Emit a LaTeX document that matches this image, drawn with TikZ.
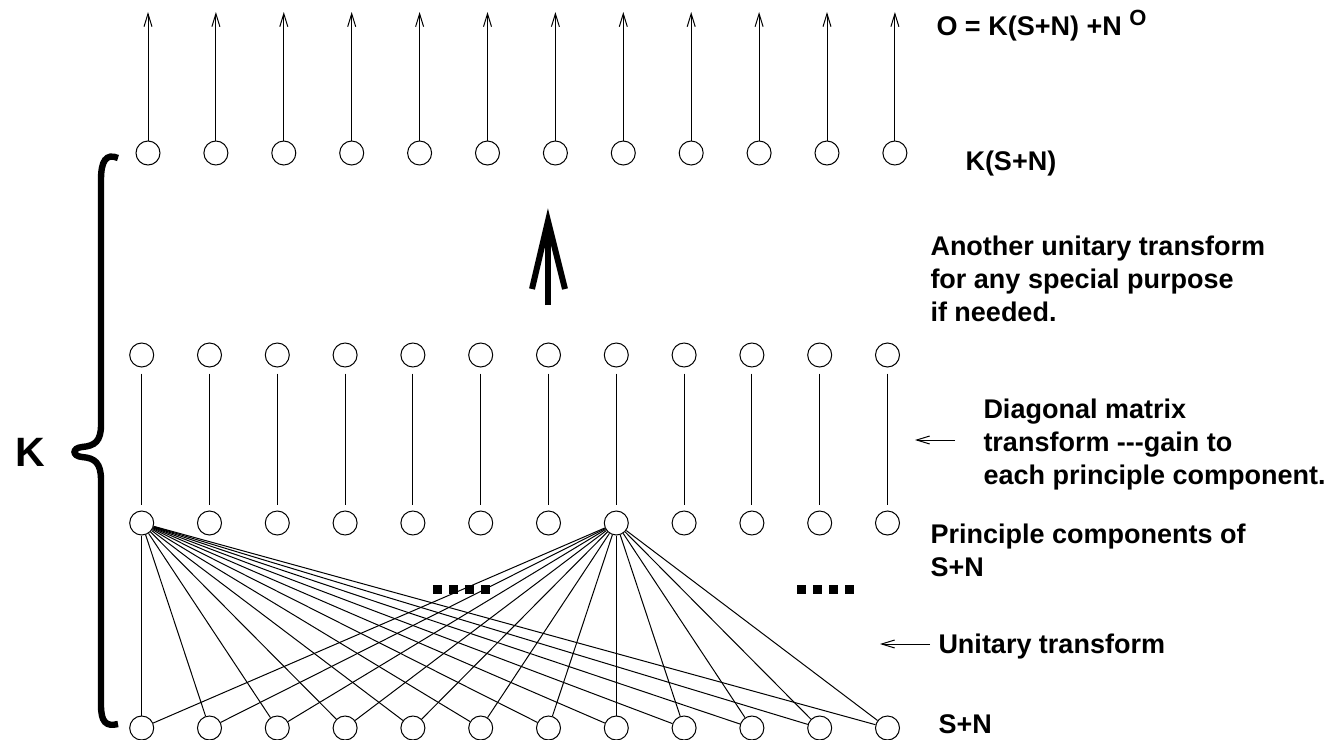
\documentclass[tikz,border=0pt]{standalone}
\usepackage{fontspec}
\setmainfont{Liberation Sans}
\usetikzlibrary{arrows.meta}

\tikzset{
  unit/.style={draw, circle, minimum size=12pt, inner sep=0pt, line width=0.5pt},
  lbl/.style={anchor=base west, inner sep=0pt, align=left,
    font=\bfseries\fontsize{13.5}{16.5}\selectfont},
  thinarrow/.style={line width=0.5pt, -{Straight Barb[length=6.5pt,width=4pt]}},
  dotsq/.style={fill=black},
}

\begin{document}
\begin{tikzpicture}[x=0.5pt, y=-0.5pt, line width=0.5pt]
\useasboundingbox (0,0) rectangle (1330,740);

% output layer K(S+N)
\foreach \i in {0,...,11}
{
    \node[unit] (k\i) at (148+67.9*\i,153) {};
    \coordinate (o\i) at (148+67.9*\i,12);
    \draw[thinarrow] (k\i) -- (o\i);
};

% diagonal, principal and input layers
\foreach \i in {0,...,11}
{
    \node[unit] (d\i) at (141.7+67.8*\i,355) {};
    \node[unit] (p\i) at (141.7+67.8*\i,523) {};
    \node[unit] (s\i) at (141.7+67.8*\i,728) {};
    \draw[shorten <=3pt, shorten >=3pt] (d\i) -- (p\i);
};

% unitary transform (only two fans shown)
\foreach \i in {0,...,11}
{
    \draw (p0) -- (s\i);
    \draw (p7) -- (s\i);
};

% dots
\foreach \j in {0,...,3}
{
    \fill[dotsq] (433+16*\j,585) rectangle ++(9,9);
    \fill[dotsq] (797+16*\j,585) rectangle ++(9,9);
};

% big arrow
\draw[line width=3.3pt] (548,305) -- (548,225);
\draw[line width=3pt, miter limit=10] (532,289) -- (548,221) -- (565,289);

% brace
\draw[line width=3.2pt]
    (118,158) .. controls (106,153) and (101,161) .. (101,180)
    -- (101,425) .. controls (101,441) and (95,446) .. (82,447)
    .. controls (72,448) and (72,456) .. (82,457)
    .. controls (95,458) and (101,463) .. (101,480)
    -- (101,705) .. controls (101,722) and (106,727) .. (118,724);
\node[inner sep=0pt, font=\bfseries\fontsize{20.5}{20.5}\selectfont] (kmat) at (30,452) {K};

% labels (base = last line)
\node[lbl] (eqn) at (936,35) {O = K(S+N) +N \raisebox{5pt}{\fontsize{11}{11}\selectfont O}};
\node[lbl] (kout) at (965,170) {K(S+N)};
\node[lbl] (another) at (930,321) {Another unitary transform\\for any special purpose\\if needed.};
\node[lbl] (diag) at (983,484) {Diagonal matrix\\transform -{}-{}-gain to\\each principle component.};
\node[lbl] (pca) at (930,576) {Principle components of\\S+N};
\node[lbl] (unitary) at (938,653) {Unitary transform};
\node[lbl] (sn) at (938,733) {S+N};

% pointers
\coordinate (diagfrom) at (955,440);
\coordinate (diagto) at (915,440);
\draw[thinarrow] (diagfrom) -- (diagto);
\coordinate (unifrom) at (930,644);
\coordinate (unito) at (880,644);
\draw[thinarrow] (unifrom) -- (unito);
\end{tikzpicture}
\end{document}
